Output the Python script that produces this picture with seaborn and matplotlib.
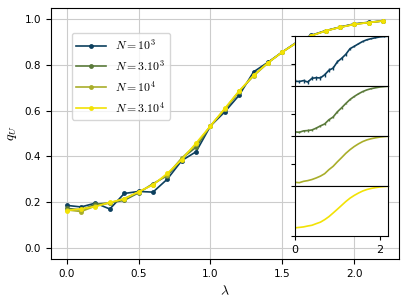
import numpy as np
import pandas as pd
import matplotlib
matplotlib.use("Agg")
import matplotlib.pyplot as plt
import seaborn as sns

# lambda grid and q_U curves
lam = [0.0, 0.1, 0.2, 0.3, 0.4, 0.5, 0.6, 0.7, 0.8, 0.9, 1.0, 1.1,
       1.2, 1.3, 1.4, 1.5, 1.6, 1.7, 1.8, 1.9, 2.0, 2.1, 2.2]
q_1e3 = [0.185, 0.178, 0.195, 0.169, 0.237, 0.246, 0.243, 0.300, 0.381, 0.420, 0.533, 0.595,
         0.668, 0.770, 0.812, 0.857, 0.900, 0.930, 0.950, 0.966, 0.980, 0.987, 0.993]
q_3e3 = [0.172, 0.165, 0.190, 0.196, 0.207, 0.240, 0.280, 0.315, 0.390, 0.440, 0.533, 0.605,
         0.683, 0.755, 0.810, 0.857, 0.898, 0.928, 0.950, 0.965, 0.979, 0.986, 0.993]
q_1e4 = [0.165, 0.158, 0.182, 0.195, 0.215, 0.243, 0.276, 0.320, 0.392, 0.452, 0.533, 0.608,
         0.686, 0.752, 0.809, 0.857, 0.898, 0.928, 0.949, 0.965, 0.978, 0.986, 0.993]
q_3e4 = [0.162, 0.170, 0.180, 0.198, 0.213, 0.245, 0.275, 0.325, 0.385, 0.458, 0.533, 0.610,
         0.687, 0.755, 0.810, 0.857, 0.898, 0.928, 0.949, 0.965, 0.978, 0.986, 0.993]
# error bars of the inset panels
err_1e3 = [0.035, 0.035, 0.035, 0.035, 0.035, 0.035, 0.035, 0.035, 0.035, 0.035, 0.03, 0.03,
           0.025, 0.02, 0.015, 0.012, 0.01, 0.008, 0.006, 0.005, 0.004, 0.003, 0.003]
err_3e3 = [0.02, 0.02, 0.02, 0.02, 0.02, 0.02, 0.02, 0.02, 0.02, 0.02, 0.018, 0.015,
           0.012, 0.01, 0.008, 0.006, 0.005, 0.004, 0.003, 0.003, 0.002, 0.002, 0.002]

labels = [r"$N=10^3$", r"$N=3.10^3$", r"$N=10^4$", r"$N=3.10^4$"]
colors = ["#0c3f5e", "#5a7a3a", "#a9ae2a", "#f2e205"]

df = pd.DataFrame({
    "lam": lam * 4,
    "q": q_1e3 + q_3e3 + q_1e4 + q_3e4,
    "N": [labels[0]] * len(lam) + [labels[1]] * len(lam) + [labels[2]] * len(lam) + [labels[3]] * len(lam),
})

plt.rcParams["mathtext.fontset"] = "cm"
plt.rcParams["font.size"] = 7.5

fig = plt.figure(figsize=(4.07, 3.04), dpi=100)
ax = fig.add_axes([0.125, 0.148, 0.855, 0.826])

sns.lineplot(data=df, x="lam", y="q", hue="N", palette=colors, marker="o",
             markersize=3.5, markeredgewidth=0, linewidth=1.2, ax=ax)
ax.set_ylim(-0.05, 1.05)
ax.set_xticks([0.0, 0.5, 1.0, 1.5, 2.0])
ax.set_yticks([0.0, 0.2, 0.4, 0.6, 0.8, 1.0])
ax.grid(True, color="#cccccc", linewidth=0.8)
ax.set_axisbelow(True)
ax.set_xlabel(r"$\lambda$", fontsize=10)
ax.set_ylabel(r"$q_U$", fontsize=10)
ax.legend(loc="upper left", bbox_to_anchor=(0.06, 0.90), borderaxespad=0,
          fontsize=8.5, handlelength=2.5)

# stacked inset panels
series = [q_1e3, q_3e3, q_1e4, q_3e4]
errs = [err_1e3, err_3e3, None, None]
x0, w, top, h = 0.725, 0.2285, 0.882, 0.1645
for i in range(4):
    iax = fig.add_axes([x0, top - (i + 1) * h, w, h])
    if errs[i] is not None:
        iax.errorbar(lam, series[i], yerr=errs[i], color=colors[i], linewidth=1.2,
                     elinewidth=1.0, capsize=0)
    else:
        sns.lineplot(x=lam, y=series[i], color=colors[i], linewidth=1.2, ax=iax)
    iax.set_xlim(0, 2.2)
    if i < 3:
        iax.set_ylim(0.1, 1.0)
        iax.set_yticks([0.5, 1.0])
        iax.set_xticks([])
    else:
        iax.set_ylim(0.0, 1.0)
        iax.set_yticks([0.0, 1.0])
        iax.set_xticks([0, 2])
    iax.set_yticklabels([])
    iax.tick_params(labelsize=8, length=3)

fig.savefig("out.png", dpi=100)
